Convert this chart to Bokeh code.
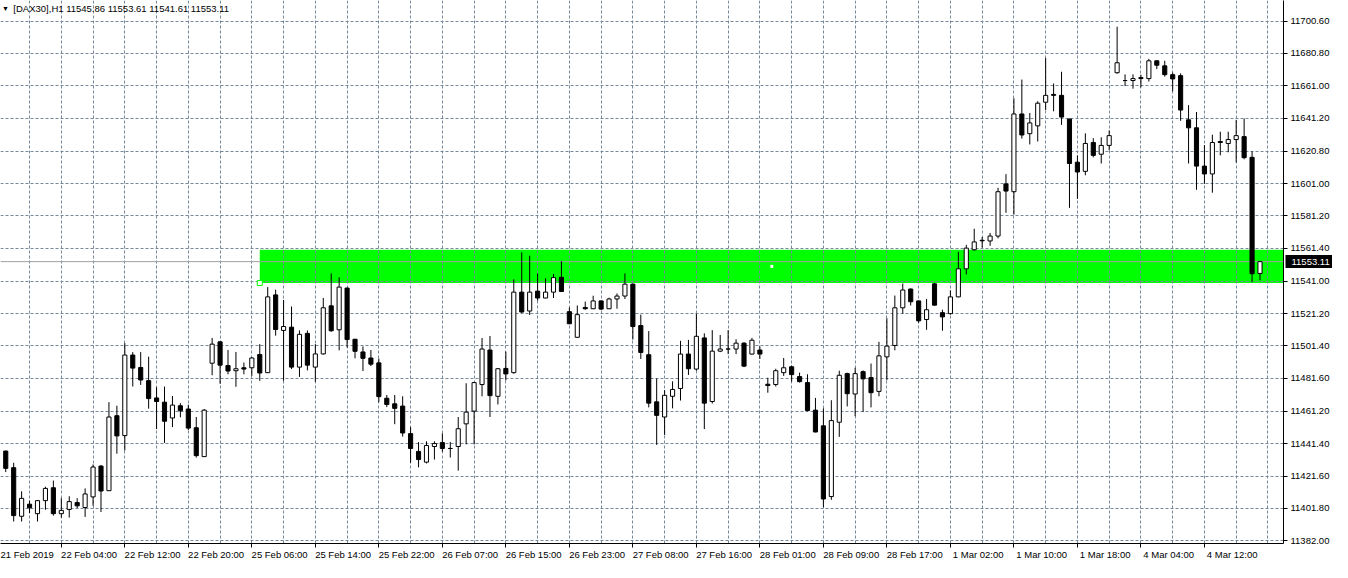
from bokeh.plotting import figure
from bokeh.models import (ColumnDataSource, FixedTicker, NumeralTickFormatter, Label, Range1d, Span,
                          LinearAxis)
from bokeh.embed import file_html
from bokeh.resources import INLINE

# ---- data (DAX30, H1) ----
opens = [11436.9, 11426.7, 11396.9, 11404.3, 11398.5, 11406.5, 11414.4, 11398.5, 11401.1, 11405.3,
         11402.3, 11408.8, 11427.7, 11412.6, 11458.6, 11446.4, 11495.8, 11488.2, 11480.1, 11469.5,
         11466.9, 11457.2, 11464.7, 11462.7, 11451.2, 11433.5, 11490.8, 11503.9, 11489.4, 11486.2,
         11488.0, 11488.0, 11496.1, 11485.0, 11532.7, 11510.9, 11512.9, 11488.4, 11509.1, 11488.4,
         11496.5, 11526.0, 11511.3, 11536.9, 11505.5, 11497.7, 11494.0, 11491.0, 11469.3, 11465.9,
         11464.5, 11447.6, 11436.7, 11430.1, 11439.7, 11442.1, 11438.5, 11439.7, 11453.6, 11461.4,
         11477.7, 11498.9, 11470.5, 11487.6, 11485.0, 11534.4, 11522.8, 11535.0, 11530.8, 11534.4,
         11543.5, 11522.4, 11506.7, 11525.0, 11524.2, 11529.0, 11524.2, 11530.2, 11532.0, 11539.3,
         11513.9, 11496.0, 11467.1, 11457.8, 11470.5, 11475.3, 11496.4, 11487.2, 11506.3, 11467.3,
         11498.2, 11499.5, 11499.5, 11503.1, 11496.4, 11498.9, 11477.9, 11477.7, 11485.0, 11488.6,
         11482.6, 11478.9, 11462.0, 11452.4, 11409.0, 11454.6, 11484.4, 11471.9, 11485.6, 11482.0,
         11473.5, 11494.7, 11501.7, 11524.8, 11536.3, 11529.0, 11517.6, 11539.5, 11521.8, 11521.2,
         11531.5, 11548.7, 11560.4, 11566.2, 11565.8, 11568.8, 11600.8, 11596.0, 11643.7, 11631.6,
         11636.4, 11650.9, 11655.7, 11655.1, 11640.6, 11614.1, 11608.5, 11626.2, 11619.0, 11624.4,
         11669.0, 11664.2, 11664.2, 11666.0, 11665.4, 11676.3, 11673.2, 11667.8, 11667.2, 11640.1,
         11635.2, 11611.7, 11606.9, 11626.8, 11625.6, 11628.0, 11629.8, 11617.1, 11545.86]
highs = [11437.2, 11429.7, 11412.2, 11406.5, 11406.9, 11415.0, 11418.8, 11408.0, 11409.2, 11408.0,
         11414.0, 11428.7, 11428.3, 11466.9, 11464.7, 11503.1, 11497.6, 11497.6, 11494.8, 11476.1,
         11476.5, 11470.7, 11466.3, 11465.3, 11457.8, 11462.7, 11506.3, 11504.3, 11498.9, 11497.7,
         11491.2, 11494.4, 11502.5, 11537.5, 11535.9, 11529.6, 11525.6, 11510.9, 11510.9, 11502.5,
         11530.8, 11545.9, 11543.5, 11537.1, 11505.7, 11501.1, 11498.9, 11493.6, 11471.3, 11471.3,
         11470.5, 11451.6, 11442.4, 11442.9, 11442.9, 11447.8, 11442.5, 11457.8, 11478.5, 11479.3,
         11506.3, 11507.5, 11487.8, 11497.9, 11542.3, 11558.8, 11556.8, 11545.9, 11542.9, 11545.5,
         11553.4, 11525.0, 11526.2, 11528.6, 11532.2, 11529.2, 11531.0, 11533.6, 11545.9, 11539.7,
         11520.6, 11510.5, 11481.4, 11474.3, 11479.7, 11504.5, 11505.1, 11521.2, 11509.1, 11511.1,
         11508.1, 11511.1, 11505.5, 11503.7, 11506.3, 11501.1, 11481.9, 11487.4, 11494.0, 11489.4,
         11485.0, 11484.0, 11469.5, 11463.1, 11468.1, 11486.2, 11485.0, 11488.0, 11486.4, 11490.6,
         11503.9, 11518.4, 11532.3, 11539.7, 11536.7, 11529.2, 11530.2, 11540.1, 11523.6, 11535.5,
         11559.2, 11563.4, 11573.3, 11568.2, 11570.7, 11598.4, 11606.8, 11653.3, 11664.8, 11644.3,
         11651.5, 11678.0, 11662.4, 11669.6, 11640.8, 11618.3, 11631.8, 11628.8, 11629.4, 11633.6,
         11697.2, 11668.0, 11668.0, 11667.8, 11677.5, 11676.5, 11676.3, 11669.0, 11668.6, 11649.1,
         11644.9, 11624.6, 11631.0, 11632.8, 11632.8, 11640.1, 11640.9, 11620.8, 11553.61]
lows = [11424.0, 11393.7, 11393.7, 11398.9, 11393.7, 11400.9, 11397.3, 11396.1, 11396.1, 11401.9,
        11396.5, 11403.3, 11399.5, 11412.4, 11435.3, 11437.3, 11476.5, 11477.5, 11462.9, 11450.4,
        11441.9, 11451.6, 11457.6, 11449.8, 11432.9, 11433.3, 11483.4, 11478.2, 11484.0, 11476.3,
        11484.0, 11483.0, 11480.0, 11484.8, 11507.7, 11480.0, 11487.2, 11482.4, 11486.4, 11479.4,
        11496.1, 11510.1, 11498.7, 11500.5, 11493.8, 11486.0, 11489.0, 11466.9, 11463.9, 11453.4,
        11445.8, 11429.7, 11426.9, 11429.3, 11431.7, 11436.5, 11432.9, 11424.9, 11441.0, 11441.0,
        11470.5, 11457.8, 11465.5, 11480.3, 11484.4, 11521.6, 11520.4, 11529.2, 11530.6, 11530.8,
        11534.6, 11514.8, 11506.5, 11523.6, 11524.0, 11523.4, 11524.0, 11524.2, 11530.2, 11505.3,
        11493.4, 11463.7, 11440.7, 11446.8, 11463.1, 11467.9, 11483.6, 11486.2, 11450.4, 11466.1,
        11497.6, 11496.4, 11496.4, 11488.4, 11496.2, 11493.4, 11472.7, 11476.5, 11483.0, 11479.5,
        11478.9, 11461.2, 11448.4, 11402.5, 11407.0, 11445.6, 11464.3, 11458.3, 11460.9, 11463.7,
        11470.5, 11480.4, 11498.7, 11521.2, 11526.2, 11515.6, 11511.3, 11526.2, 11510.7, 11520.6,
        11531.3, 11545.3, 11559.8, 11561.8, 11562.8, 11567.4, 11583.1, 11581.9, 11628.6, 11625.0,
        11626.8, 11646.1, 11645.3, 11637.0, 11586.1, 11591.6, 11606.1, 11617.1, 11613.3, 11621.4,
        11668.4, 11660.8, 11659.2, 11660.0, 11663.6, 11671.2, 11666.6, 11657.6, 11639.5, 11613.3,
        11597.2, 11600.9, 11595.4, 11618.3, 11620.2, 11614.0, 11615.9, 11540.5, 11541.61]
closes = [11426.3, 11397.3, 11407.9, 11402.1, 11406.5, 11414.0, 11398.5, 11400.5, 11405.9, 11403.3,
          11410.6, 11427.1, 11412.4, 11457.8, 11446.2, 11495.8, 11487.8, 11480.5, 11469.1, 11467.3,
          11455.2, 11465.1, 11461.6, 11451.0, 11434.1, 11462.0, 11502.5, 11489.6, 11486.0, 11487.4,
          11487.2, 11494.0, 11484.8, 11531.5, 11511.5, 11513.3, 11488.4, 11508.5, 11489.6, 11496.5,
          11524.8, 11510.7, 11537.5, 11505.3, 11498.1, 11493.8, 11490.2, 11470.3, 11465.5, 11463.1,
          11448.0, 11438.5, 11431.7, 11440.3, 11441.5, 11438.5, 11438.5, 11450.6, 11460.8, 11478.9,
          11499.5, 11470.9, 11487.4, 11484.2, 11534.4, 11522.2, 11534.4, 11530.8, 11534.4, 11543.3,
          11534.8, 11515.0, 11520.6, 11524.2, 11529.0, 11524.0, 11530.2, 11532.0, 11539.3, 11513.3,
          11497.4, 11466.3, 11458.8, 11471.1, 11474.7, 11496.4, 11487.4, 11507.3, 11466.3, 11498.2,
          11499.5, 11499.5, 11503.1, 11489.0, 11504.9, 11496.4, 11477.1, 11486.2, 11488.0, 11483.8,
          11479.5, 11461.8, 11448.6, 11407.5, 11455.6, 11483.4, 11472.1, 11484.4, 11481.2, 11472.7,
          11495.3, 11501.3, 11524.8, 11535.7, 11528.5, 11516.8, 11523.6, 11526.4, 11519.2, 11531.5,
          11548.7, 11561.4, 11565.2, 11565.9, 11568.8, 11596.0, 11596.4, 11643.7, 11630.8, 11638.2,
          11650.3, 11655.1, 11655.1, 11641.8, 11613.3, 11608.1, 11625.6, 11618.3, 11624.4, 11630.4,
          11675.1, 11664.2, 11665.4, 11665.4, 11676.3, 11673.6, 11667.8, 11665.2, 11646.1, 11635.2,
          11611.7, 11606.9, 11626.2, 11626.2, 11628.0, 11630.4, 11616.9, 11545.7, 11553.11]

# time-axis labels, each at a bar index
x_label_bars = [-1, 7, 15, 23, 31, 39, 47, 55, 63, 71, 79, 87, 95, 103, 111, 119, 127, 135, 143, 151]
x_labels = ["21 Feb 2019", "22 Feb 04:00", "22 Feb 12:00", "22 Feb 20:00", "25 Feb 06:00",
            "25 Feb 14:00", "25 Feb 22:00", "26 Feb 07:00", "26 Feb 15:00", "26 Feb 23:00",
            "27 Feb 08:00", "27 Feb 16:00", "28 Feb 01:00", "28 Feb 09:00", "28 Feb 17:00",
            "1 Mar 02:00", "1 Mar 10:00", "1 Mar 18:00", "4 Mar 04:00", "4 Mar 12:00"]
y_ticks = [11382.00, 11401.80, 11421.60, 11441.40, 11461.20, 11481.60, 11501.40, 11521.20, 11541.00,
           11561.40, 11581.20, 11601.00, 11620.80, 11641.20, 11661.00, 11680.80, 11700.60]

title_text = "[DAX30],H1  11545.86 11553.61 11541.61 11553.11"
zone_start_bar = 32
zone_top = 11560.4
zone_bottom = 11540.0
bid = closes[-1]

FONT = "Liberation Sans"
FS = "9.5px"

n = len(opens)
idx = list(range(n))
src = ColumnDataSource(dict(
    x=idx,
    high=highs,
    low=lows,
    top=[max(o, c) for o, c in zip(opens, closes)],
    bottom=[min(o, c) for o, c in zip(opens, closes)],
    fill=["white" if c >= o else "black" for o, c in zip(opens, closes)],
))

x_start, x_end = -0.66, 160.96
p = figure(width=1332, height=562,
           x_range=Range1d(x_start, x_end), y_range=Range1d(11380.2, 11713.3),
           y_axis_location="right", toolbar_location=None, output_backend="svg",
           min_border_left=0, min_border_top=0, min_border_right=47, min_border_bottom=0,
           background_fill_color="white", border_fill_color="white", outline_line_color=None)

# support/resistance zone
p.quad(left=[zone_start_bar], right=[x_end + 10], top=[zone_top], bottom=[zone_bottom],
       fill_color="#00ff00", line_color=None, level="image")

# bid line
p.add_layout(Span(location=bid, dimension="width", line_color="#a0a0a0", line_width=1, level="underlay"))

# candles
p.segment(x0="x", y0="low", x1="x", y1="high", source=src, line_color="black", line_width=1)
p.vbar(x="x", top="top", bottom="bottom", width=0.52, fill_color="fill", line_color="black",
       line_width=1, source=src)

# zone handles
p.scatter(x=[zone_start_bar], y=[zone_bottom], marker="square", size=5, fill_color="white",
          line_color="#00ff00", line_width=1)
p.scatter(x=[(zone_start_bar + 161) / 2], y=[(zone_top + zone_bottom) / 2], marker="square", size=3,
          fill_color="white", line_color=None)

# axes
xa = p.xaxis[0]
xa.ticker = FixedTicker(ticks=[b + 3.5 for b in x_label_bars], minor_ticks=x_label_bars)
xa.major_label_overrides = {b + 3.5: t for b, t in zip(x_label_bars, x_labels)}
xa.major_tick_in = 0
xa.major_tick_out = 0
xa.minor_tick_in = 0
xa.minor_tick_out = 4
xa.minor_tick_line_color = "black"
xa.axis_line_color = "black"
xa.major_label_standoff = 1
xa.axis_label_standoff = 0
xa.major_label_text_font = FONT
xa.major_label_text_font_size = FS
xa.major_label_text_color = "black"

ya = p.yaxis[0]
ya.ticker = FixedTicker(ticks=y_ticks)
ya.formatter = NumeralTickFormatter(format="0.00")
ya.major_tick_in = 0
ya.major_tick_out = 4
ya.minor_tick_line_color = None
ya.major_tick_line_color = "black"
ya.axis_line_color = "black"
ya.major_label_standoff = 3
ya.axis_label_standoff = 0
ya.major_label_text_font = FONT
ya.major_label_text_font_size = FS
ya.major_label_text_color = "black"

# current price tag on the price scale: an outer axis whose single inward tick is a black bar
tag = LinearAxis(ticker=FixedTicker(ticks=[bid]),
                 formatter=NumeralTickFormatter(format="0.00"),
                 axis_line_color=None, minor_tick_line_color=None,
                 major_tick_line_color="black", major_tick_line_width=13,
                 major_tick_in=47, major_tick_out=0, major_label_standoff=-41,
                 axis_label_standoff=0,
                 major_label_text_color="white", major_label_text_font=FONT,
                 major_label_text_font_size=FS)
p.add_layout(tag, "right")

# grid
p.xgrid.ticker = FixedTicker(ticks=list(range(3, n + 3, 4)))
p.ygrid.ticker = FixedTicker(ticks=y_ticks)
for g in (p.xgrid[0], p.ygrid[0]):
    g.grid_line_color = "#778899"
    g.grid_line_dash = "3 2"
    g.grid_line_width = 1

# title
p.add_layout(Label(x=0.96, y=11708.4, text=title_text, text_font=FONT, text_font_size=FS,
                   text_color="black", text_baseline="middle", text_align="left"))
p.add_layout(Label(x=-0.05, y=11708.4, text="\u25bc", text_font=FONT, text_font_size="7px",
                   text_color="black", text_baseline="middle", text_align="center"))

open("out.html", "w").write(file_html(p, INLINE))
